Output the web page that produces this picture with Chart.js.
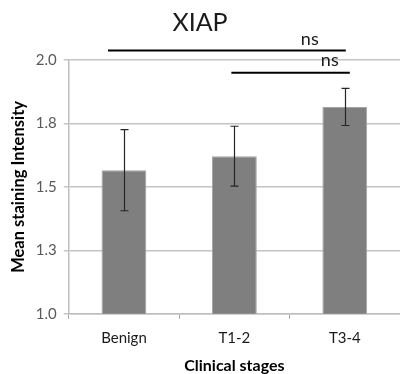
<!DOCTYPE html>
<html>
<head>
<meta charset="utf-8">
<script src="https://cdn.jsdelivr.net/npm/chart.js@4.4.1/dist/chart.umd.min.js"></script>
<style>
  html, body { margin: 0; padding: 0; background: #fff; }
  #wrap { width: 400px; height: 374px; }
</style>
</head>
<body>
<div id="wrap"><canvas id="xiapChart"></canvas></div>
<script>
// values
const categories = ['Benign', 'T1-2', 'T3-4'];
const meanValues = [1.566, 1.621, 1.815];
const errorValues = [0.16, 0.118, 0.073];
const yTicks = [1.0, 1.25, 1.5, 1.75, 2.0];
const yTickLabels = ['1.0', '1.3', '1.5', '1.8', '2.0'];
const bracketFrom = ['Benign', 'T1-2'];
const bracketTo = ['T3-4', 'T3-4'];
const bracketLevel = [2.037, 1.95];
const bracketText = ['ns', 'ns'];

// error bars + significance lines
const extrasPlugin = {
    id: 'extras',
    afterDatasetsDraw: function (chart) {
        const ctx = chart.ctx;
        const x = chart.scales.x;
        const y = chart.scales.y;
        ctx.save();
        ctx.strokeStyle = '#262626';
        ctx.lineWidth = 1.2;
        meanValues.forEach(function (v, i) {
            const cx = Math.round(x.getPixelForValue(i)) + 0.5;
            const top = y.getPixelForValue(v + errorValues[i]);
            const bot = y.getPixelForValue(v - errorValues[i]);
            ctx.beginPath();
            ctx.moveTo(cx, top);
            ctx.lineTo(cx, bot);
            ctx.moveTo(cx - 4, top);
            ctx.lineTo(cx + 4, top);
            ctx.moveTo(cx - 4, bot);
            ctx.lineTo(cx + 4, bot);
            ctx.stroke();
        });

        // small pixel nudges so the lines sit like in the original
        const startNudge = [-16, -3];
        const endNudge = [1, 5];
        const textBack = [36, 20];
        const textUp = [11, 13];
        ctx.strokeStyle = '#000';
        ctx.lineWidth = 2;
        ctx.fillStyle = '#1a1a1a';
        ctx.font = '18px Lato';
        ctx.textAlign = 'center';
        ctx.textBaseline = 'middle';
        bracketLevel.forEach(function (lvl, i) {
            const x1 = x.getPixelForValue(categories.indexOf(bracketFrom[i])) + startNudge[i];
            const x2 = x.getPixelForValue(categories.indexOf(bracketTo[i])) + endNudge[i];
            const py = y.getPixelForValue(lvl);
            ctx.beginPath();
            ctx.moveTo(x1, py);
            ctx.lineTo(x2, py);
            ctx.stroke();
            ctx.fillText(bracketText[i], x2 - textBack[i], py - textUp[i]);
        });
        ctx.restore();
    }
};

const ctxXiap = document.getElementById('xiapChart').getContext('2d');
const xiapChart = new Chart(ctxXiap, {
    type: 'bar',
    data: {
        labels: categories,
        datasets: [{
            label: 'XIAP',
            data: meanValues,
            backgroundColor: '#7f7f7f',
            borderColor: '#a5a5a5',
            borderWidth: 1,
            barPercentage: 0.406,
            categoryPercentage: 1
        }]
    },
    options: {
        responsive: true,
        maintainAspectRatio: false,
        animation: false,
        layout: { padding: 0 },
        plugins: {
            legend: { display: false },
            tooltip: { enabled: false },
            title: {
                display: true,
                text: 'XIAP',
                color: '#1a1a1a',
                font: { family: 'Lato', size: 25, weight: 'normal', lineHeight: 1.2 },
                padding: { top: 8, bottom: 22 }
            }
        },
        scales: {
            x: {
                offset: true,
                grid: {
                    offset: true,
                    drawOnChartArea: false,
                    drawTicks: true,
                    tickLength: 5,
                    color: '#a6a6a6'
                },
                border: { color: '#bfbfbf', width: 1.5 },
                ticks: {
                    color: '#1a1a1a',
                    padding: 10,
                    font: { family: 'Lato', size: 15 }
                },
                title: {
                    display: true,
                    text: 'Clinical stages',
                    color: '#000',
                    font: { family: 'Lato', size: 16, weight: 'bold', lineHeight: 1.2 },
                    padding: { top: -1, bottom: -1 }
                }
            },
            y: {
                min: 1,
                max: 2,
                afterBuildTicks: function (axis) {
                    axis.ticks = yTicks.map(function (v) { return { value: v }; });
                },
                grid: {
                    color: '#c4c4c4',
                    lineWidth: 1.5,
                    tickLength: 5
                },
                border: { color: '#bfbfbf', width: 1.5 },
                ticks: {
                    color: '#595959',
                    padding: 7,
                    font: { family: 'Lato', size: 15 },
                    callback: function (value, index) {
                        return yTickLabels[index];
                    }
                },
                title: {
                    display: true,
                    text: 'Mean staining Intensity',
                    color: '#000',
                    font: { family: 'Lato', size: 16.5, weight: 'bold', lineHeight: 1.2 },
                    padding: { top: 9, bottom: 0 }
                }
            }
        }
    },
    plugins: [extrasPlugin]
});
</script>
</body>
</html>
